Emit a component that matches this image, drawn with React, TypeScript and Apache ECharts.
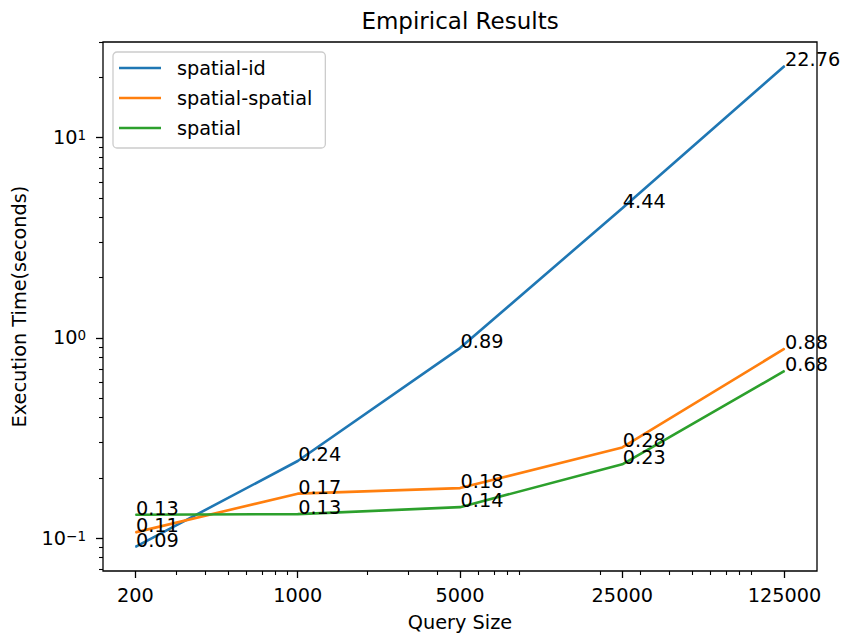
import React, { useEffect, useRef } from "react";
import * as echarts from "echarts";

const querySizes = [200, 1000, 5000, 25000, 125000];
const seriesNames = ["spatial-id", "spatial-spatial", "spatial"];
const spatialIdTimes = [0.0905, 0.243, 0.89, 4.44, 22.76];
const spatialSpatialTimes = [0.107, 0.167, 0.178, 0.284, 0.884];
const spatialTimes = [0.131, 0.132, 0.143, 0.234, 0.684];
const yMajorExponents = [-1, 0, 1];
const minorMultipliers = [2, 3, 4, 5, 6, 7, 8, 9];
const seriesColors = ["#1f77b4", "#ff7f0e", "#2ca02c"];

const FONT = "DejaVu Sans";
const FS = 19.3;

export default function App() {
  const ref = useRef<HTMLDivElement>(null);

  useEffect(() => {
    document.body.style.margin = "0";
    if (!ref.current) return;
    const chart = echarts.init(ref.current, undefined, { renderer: "svg" });

    const allSeries = [spatialIdTimes, spatialSpatialTimes, spatialTimes];
    const lx = querySizes.map((q) => Math.log10(q));
    const xSpan = lx[lx.length - 1] - lx[0];
    const xMin = lx[0] - 0.05 * xSpan;
    const xMax = lx[lx.length - 1] + 0.05 * xSpan;
    const allY = allSeries.flat().map((v) => Math.log10(v));
    const yLo = Math.min(...allY);
    const yHi = Math.max(...allY);
    const ySpan = yHi - yLo;
    const yMin = yLo - 0.05 * ySpan;
    const yMax = yHi + 0.05 * ySpan;

    const xMinor: number[] = [];
    for (let k = 1; k <= 6; k++) {
      for (const m of minorMultipliers) {
        const v = m * Math.pow(10, k);
        const l = Math.log10(v);
        if (l >= xMin && l <= xMax && !querySizes.includes(v)) xMinor.push(l);
      }
    }
    const yMinor: number[] = [];
    for (let k = -3; k <= 2; k++) {
      for (const m of minorMultipliers) {
        const l = Math.log10(m) + k;
        if (l >= yMin && l <= yMax) yMinor.push(l);
      }
    }

    const tickLine = { color: "#000", width: 1.3 };
    const minorLine = { color: "#000", width: 1.1 };
    const noLine = { show: false, onZero: false };

    const option = {
      animation: false,
      title: {
        text: "Empirical Results",
        left: 460,
        top: 9,
        textAlign: "center",
        padding: 0,
        textStyle: { fontFamily: FONT, fontSize: 23, fontWeight: "normal", color: "#000" },
      },
      grid: {
        left: 103,
        right: 24,
        top: 42,
        bottom: 64,
        show: true,
        borderColor: "#000",
        borderWidth: 1.3,
        containLabel: false,
      },
      legend: {
        orient: "vertical",
        left: 113,
        top: 52,
        padding: [1, 13, 5, 6],
        itemWidth: 42,
        itemHeight: 2.6,
        itemGap: 0,
        icon: "rect",
        backgroundColor: "rgba(255,255,255,0.8)",
        borderColor: "#cccccc",
        borderWidth: 1.3,
        borderRadius: 4,
        data: seriesNames,
        textStyle: {
          fontFamily: FONT,
          fontSize: FS,
          color: "#000",
          lineHeight: 30,
          padding: [0, 0, 0, 11],
        },
      },
      xAxis: [
        {
          type: "value",
          min: xMin,
          max: xMax,
          position: "bottom",
          name: "Query Size",
          nameLocation: "middle",
          nameGap: 42,
          nameTextStyle: { fontFamily: FONT, fontSize: FS, color: "#000" },
          axisLine: noLine,
          splitLine: { show: false },
          axisTick: { show: true, customValues: lx, length: 7, lineStyle: tickLine },
          axisLabel: {
            customValues: lx,
            margin: 15,
            fontFamily: FONT,
            fontSize: FS,
            color: "#000",
            formatter: (v: number) => String(Math.round(Math.pow(10, v))),
          },
        },
        {
          type: "value",
          min: xMin,
          max: xMax,
          position: "bottom",
          axisLine: noLine,
          splitLine: { show: false },
          axisLabel: { show: false },
          axisTick: { show: true, customValues: xMinor, length: 4, lineStyle: minorLine },
        },
      ],
      yAxis: [
        {
          type: "value",
          min: yMin,
          max: yMax,
          position: "left",
          name: "Execution Time(seconds)",
          nameLocation: "middle",
          nameRotate: 90,
          nameGap: 74,
          nameTextStyle: { fontFamily: FONT, fontSize: FS, color: "#000" },
          axisLine: noLine,
          splitLine: { show: false },
          axisTick: { show: true, customValues: yMajorExponents, length: 7, lineStyle: tickLine },
          axisLabel: {
            customValues: yMajorExponents,
            margin: 17,
            color: "#000",
            formatter: (v: number) => {
              const e = Math.round(v);
              return `{b|10}{s|${e < 0 ? "\u2212" : ""}${Math.abs(e)}}`;
            },
            rich: {
              b: { fontFamily: FONT, fontSize: FS, lineHeight: FS, color: "#000" },
              s: { fontFamily: FONT, fontSize: 13.5, lineHeight: 10, verticalAlign: "top", color: "#000" },
            },
          },
        },
        {
          type: "value",
          min: yMin,
          max: yMax,
          position: "left",
          axisLine: noLine,
          splitLine: { show: false },
          axisLabel: { show: false },
          axisTick: { show: true, customValues: yMinor, length: 4, lineStyle: minorLine },
        },
      ],
      series: allSeries.map((vals, si) => ({
        type: "line",
        name: seriesNames[si],
        xAxisIndex: 0,
        yAxisIndex: 0,
        data: querySizes.map((q, i) => [Math.log10(q), Math.log10(vals[i])]),
        symbol: "circle",
        symbolSize: 1,
        showSymbol: true,
        silent: true,
        lineStyle: { color: seriesColors[si], width: 2.6 },
        itemStyle: { color: seriesColors[si] },
        emphasis: { disabled: true },
        label: {
          show: true,
          position: "right",
          distance: 0,
          offset: [0, -6.5],
          fontFamily: FONT,
          fontSize: FS,
          color: "#000",
          formatter: (p: any) => vals[p.dataIndex].toFixed(2),
        },
      })),
    };

    chart.setOption(option as any);
    return () => chart.dispose();
  }, []);

  return <div ref={ref} style={{ width: 841, height: 637 }} />;
}
